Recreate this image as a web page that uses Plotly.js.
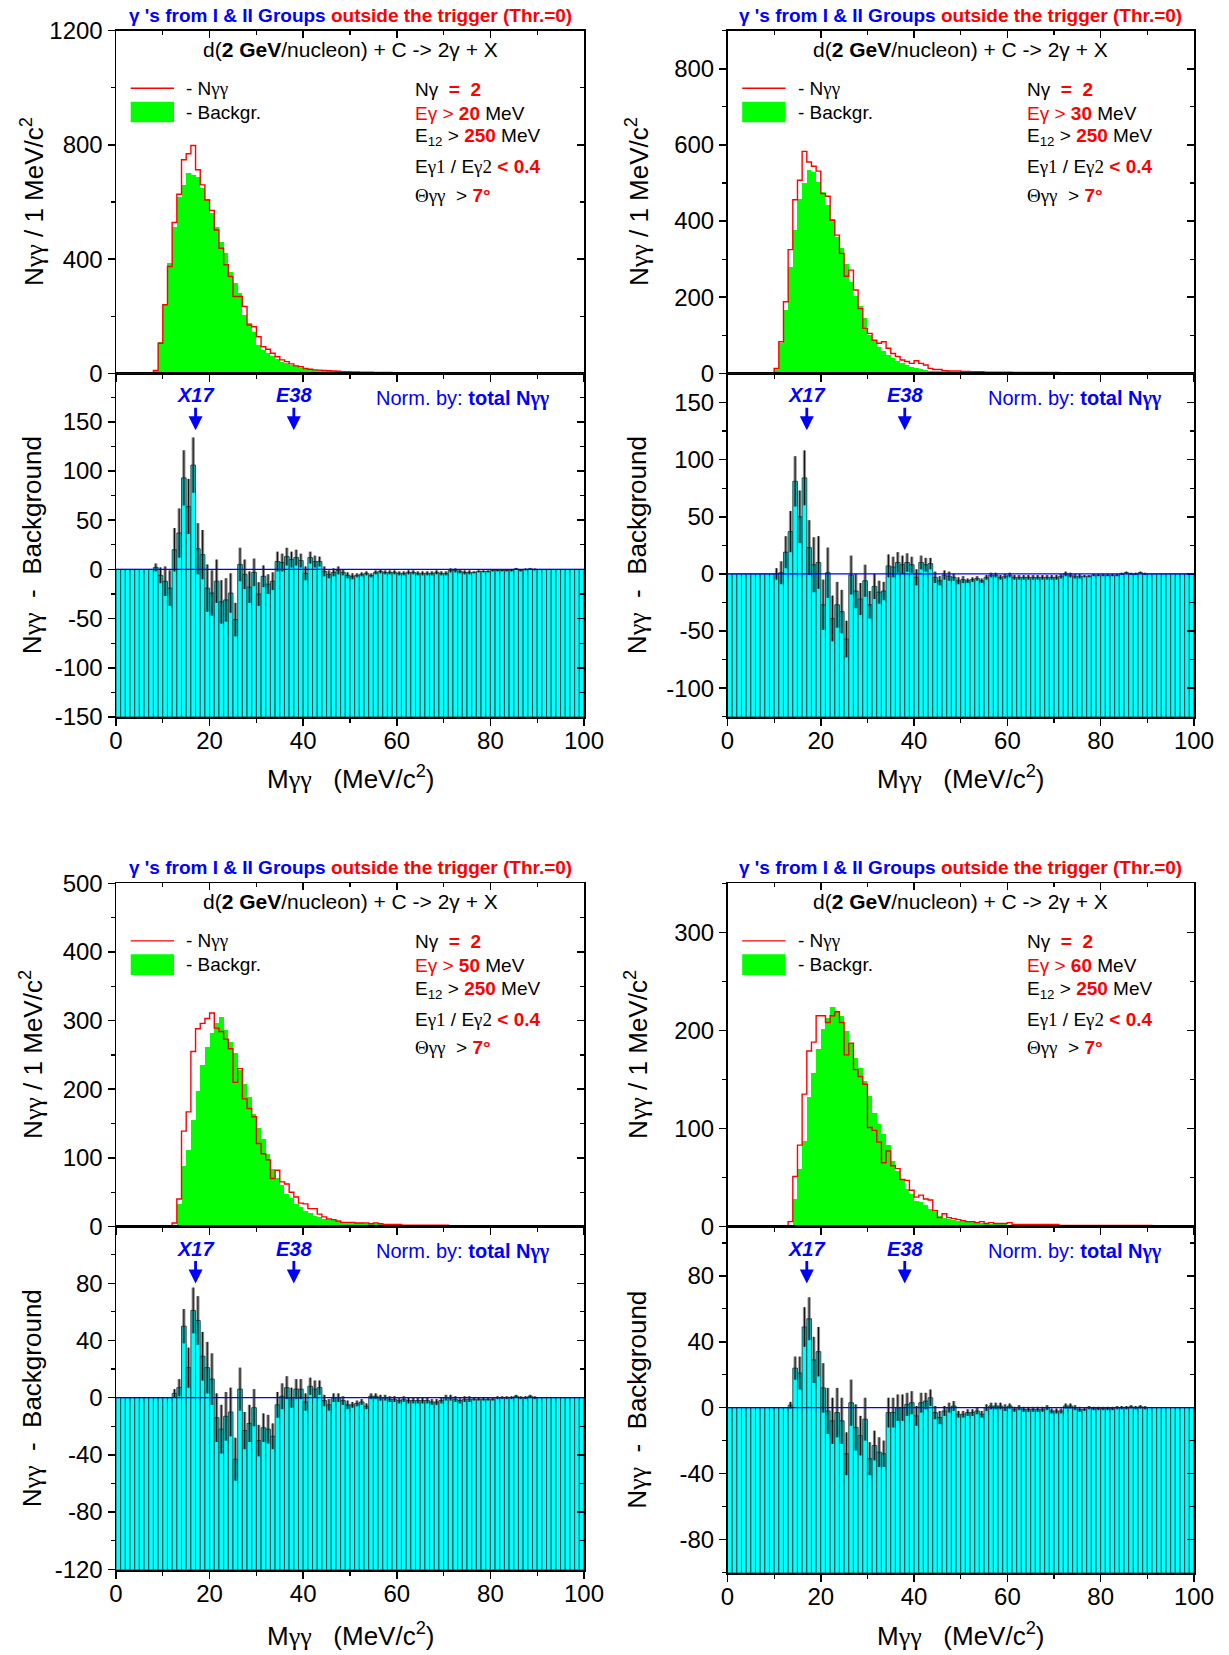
<!DOCTYPE html>
<html>
<head>
<meta charset="utf-8">
<script src="https://cdn.plot.ly/plotly-3.0.1.min.js"></script>
<style>
html,body{margin:0;padding:0;background:#fff;}
#chart{width:1229px;height:1655px;}
</style>
</head>
<body>
<div id="chart"></div>
<script>
// ---------------- DATA (1 MeV bins, 0..100 MeV) ----------------
const thresholds = [20, 30, 50, 60];

// E_gamma > 20 MeV
const red20 = [
0,0,0,0,0,0,0,0,10,105,
240,374,528,627,748,769,798,713,660,607,
570,502,438,380,339,269,269,234,169,163,
128,93,84,70,58,47,41,33,26,23,
17,14,12,11,10,9,8,7,6,6,
5,5,4,4,4,3,3,3,3,2,
2,2,2,2,2,2,2,2,2,2,
1,1,1,1,1,1,1,1,1,1,
1,1,1,1,1,1,1,1,1,1,
0,0,0,0,0,0,0,0,0,0];
const bkg20 = [
0,0,0,0,0,0,0,0,12,110,
240,385,514,619,660,703,695,689,648,610,
561,514,461,420,356,315,280,204,175,146,
99,82,70,61,50,41,35,29,24,20,
16,13,11,10,9,8,7,6,5,5,
4,4,4,3,3,3,3,2,2,2,
2,2,2,2,2,1,1,1,1,1,
1,1,1,1,1,1,1,1,1,1,
1,1,1,1,1,0,0,0,0,0,
0,0,0,0,0,0,0,0,0,0];
const diff20 = [
0,0,0,0,0,0,0,0,2,-6,
-12,-19,20,37,93,64,106,21,15,-19,
-24,-12,-33,-31,-24,-51,5,-5,-18,-3,
-25,-7,-15,-12,8,7,13,10,12,9,
-4,12,8,8,-2,-5,-3,-1,-3,-6,
-7,-6,-5,-4,-6,-3,-2,-3,-3,-3,
-4,-4,-3,-3,-4,-4,-4,-4,-3,-4,
-4,-1,-1,-2,-3,-3,-3,-2,-2,-2,
-1,-1,-1,-1,-1,0.5,-1,0,0.5,0,
0,0,0,0,0,0,0,0,0,0];
const err20 = [
0,0,0,0,0,0,0,0,4,8,
15,18,22,25,28,28,28,26,25,24,
23,22,22,22,20,17,17,15,16,14,
12,11,10,9,10,9,9,8,8,7,
7,6,6,5,5,4,4,4,3,3,
3,2,2,2,2,2,2,2,2,2,
2,2,2,2,2,2,2,2,2,2,
2,2,2,2,2,2,1,1,1,1,
1,1,1,1,1,1,1,1,1,1,
0,0,0,0,0,0,0,0,0,0];

// E_gamma > 30 MeV
const red30 = [
0,0,0,0,0,0,0,0,0,0,
13,83,188,325,456,507,583,555,544,531,
472,465,402,363,315,255,271,219,170,118,
105,87,79,83,66,52,44,35,31,26,
33,26,22,13,10,10,7,6,6,6,
5,5,4,4,4,3,3,3,3,3,
3,2,2,2,2,2,2,2,2,2,
2,1,1,1,1,1,1,1,1,1,
1,1,1,1,1,1,1,1,1,1,
1,0,0,0,0,0,0,0,0,0];
const bkg30 = [
0,0,0,0,0,0,0,0,0,0,
13,80,166,280,376,459,500,533,529,502,
476,441,406,358,328,287,240,203,177,144,
100,86,70,59,48,39,33,26,22,17,
14,10,9,7,6,6,5,5,4,4,
4,3,3,3,3,3,2,2,2,2,
2,2,2,2,2,2,1,1,1,1,
1,1,1,1,1,1,1,1,1,1,
1,1,1,1,1,1,0,0,0,0,
0,0,0,0,0,0,0,0,0,0];
const diff30 = [
0,0,0,0,0,0,0,0,0,0,
0,1,19,37,81,50,84,23,8,10,
-27,1,-39,-27,-33,-57,-1,-15,-22,-6,
-27,-11,-16,-15,7,6,10,8,10,8,
-3,10,8,9,-3,-6,-1,-2,-3,-6,
-5,-6,-5,-4,-6,-3,-1,-1,-3,-2,
-1,-3,-3,-3,-3,-3,-3,-3,-3,-3,
-3,-2,0,-1,-2,-2,-2,-2,-1,-1,
-1,-1,-1,-1,0,1,0,0,1,0,
0,0,0,0,0,0,0,0,0,0];
const err30 = [
0,0,0,0,0,0,0,0,0,0,
5,10,14,18,22,23,24,24,24,23,
22,22,20,20,19,16,17,15,14,14,
12,11,10,8,10,9,9,8,8,7,
7,6,6,5,5,4,4,4,3,3,
3,2,2,2,2,2,2,2,2,2,
2,2,2,2,2,2,2,2,2,2,
2,2,2,2,2,2,1,1,1,1,
1,1,1,1,1,1,1,1,1,1,
0,0,0,0,0,0,0,0,0,0];

// E_gamma > 50 MeV
const red50 = [
0,0,0,0,0,0,0,0,0,0,
0,0,5,40,139,167,255,288,296,303,
311,289,284,273,259,210,230,186,172,160,
121,106,97,70,82,65,62,50,43,34,
33,26,26,18,14,11,10,8,6,6,
6,5,5,5,4,5,4,3,3,3,
3,2,2,2,2,2,2,2,2,2,
2,1,1,1,1,1,1,1,1,1,
1,1,1,1,1,1,1,1,1,1,
1,0,0,0,0,0,0,0,0,0];
const bkg50 = [
0,0,0,0,0,0,0,0,0,0,
0,0,0,33,88,112,155,197,235,262,
282,297,305,286,269,253,228,208,188,164,
143,128,105,84,70,60,48,41,33,28,
23,19,16,14,11,10,9,8,7,6,
6,5,5,4,4,4,3,3,3,3,
2,2,2,2,2,2,1,1,1,1,
1,1,1,1,1,1,1,1,1,1,
1,1,1,1,1,1,0,0,0,0,
0,0,0,0,0,0,0,0,0,0];
const diff50 = [
0,0,0,0,0,0,0,0,0,0,
0,0,3,7,50,21,61,54,29,21,
13,-14,-22,-13,-10,-43,6,-23,-18,-7,
-30,-21,-22,-27,-5,1,7,0,6,6,
-3,8,6,7,-2,-5,0,0,-2,-5,
-5,-4,-3,-6,1,1,0,0,-1,-1,
-2,-1,-2,-2,-2,-2,-2,-3,-3,-2,
0,0,-1,-2,-1,-1,-1,-1,-1,-1,
-1,0,0,0,0,1,0,0,1,0,
0,0,0,0,0,0,0,0,0,0];
const err50 = [
0,0,0,0,0,0,0,0,0,0,
0,0,3,6,12,14,16,17,17,18,
18,17,17,17,17,15,15,13,13,13,
11,10,10,9,9,9,8,7,7,7,
6,6,6,5,4,4,3,3,3,3,
2,2,2,2,2,2,2,2,2,2,
2,2,2,2,2,2,2,2,2,2,
2,2,2,2,2,2,1,1,1,1,
1,1,1,1,1,1,1,1,1,1,
0,0,0,0,0,0,0,0,0,0];

// E_gamma > 60 MeV
const red60 = [
0,0,0,0,0,0,0,0,0,0,
0,0,0,5,51,83,135,179,188,215,
215,208,215,219,208,175,187,160,153,145,
101,98,86,65,77,62,59,48,47,37,
30,32,28,27,16,9,13,9,8,7,
6,5,5,4,5,3,4,3,3,3,
4,2,2,2,2,2,2,2,2,2,
2,1,1,1,1,1,1,1,1,1,
1,1,1,1,1,1,1,1,1,1,
1,0,0,0,0,0,0,0,0,0];
const bkg60 = [
0,0,0,0,0,0,0,0,0,0,
0,0,0,0,28,59,87,132,157,181,
201,213,224,220,215,199,187,172,162,148,
133,116,105,94,83,67,57,47,38,33,
26,25,22,18,15,11,9,8,7,6,
6,5,5,4,4,4,3,3,3,3,
2,2,2,2,2,2,1,1,1,1,
1,1,1,1,1,1,1,1,1,1,
1,1,1,1,1,1,0,0,0,0,
0,0,0,0,0,0,0,0,0,0];
const diff60 = [
0,0,0,0,0,0,0,0,0,0,
0,0,0,1.5,24,21,49,54,29,34,
12,-2,-8,-3,-8,-28,3,-12,-17,-7,
-31,-23,-27,-28,-3,-3,0,0,2,3,
-5,3,4,6,-3,-6,-2,0,1,-4,
-4,-3,-3,-2,-4,0,1,1,1,0,
1,-1,0,-1,-1,-1,-1,-1,0,-2,
-2,-2,1,1,0,-1,-1,0,-0.5,-0.5,
-0.5,-0.5,-0.5,0,0,0,0.5,0,0.5,0,
0,0,0,0,0,0,0,0,0,0];
const err60 = [
0,0,0,0,0,0,0,0,0,0,
0,0,0,2,7,10,12,13,14,15,
15,14,14,15,14,13,14,14,12,13,
10,9,9,8,9,9,8,8,7,7,
6,6,5,5,4,4,3,3,3,2,
2,2,2,2,2,2,2,2,2,2,
1.5,1.5,1.5,1.5,1.5,1.5,1.5,1.5,1.5,1.5,
1.5,1.5,1.5,1.5,1.5,1.5,1,1,1,1,
1,1,1,1,1,1,1,1,1,1,
0,0,0,0,0,0,0,0,0,0];

// tick labels of the difference panels
const bot1Ticks = [-150,-100,-50,0,50,100,150];
const bot2Ticks = [-100,-50,0,50,100,150];
const bot3Ticks = [-120,-80,-40,0,40,80];
const bot4Ticks = [-80,-40,0,40,80];
const xTicks = [0,20,40,60,80,100];

// ---------------- BUILD ----------------
const W = 1229, H = 1655;
const nBins = red20.length;
const binLow = [], binCenter = [];
for (let i = 0; i < nBins; i++) { binLow.push(i); binCenter.push(i + 0.5); }
const edges = binLow.concat([nBins]);

const series = [
  {red: red20, bkg: bkg20, diff: diff20, err: err20, ticks: bot1Ticks},
  {red: red30, bkg: bkg30, diff: diff30, err: err30, ticks: bot2Ticks},
  {red: red50, bkg: bkg50, diff: diff50, err: err50, ticks: bot3Ticks},
  {red: red60, bkg: bkg60, diff: diff60, err: err60, ticks: bot4Ticks}
];
// geometry (pixels) and axis settings
const geo = [
  {L:116,   R:584,  T:30.7,  M:373.3,  B:717,  yt:[0,1200], dt:400, mt:200, yb:[-150,199.3],  mb:25, titleY:32,  xTitleY:777},
  {L:727.5, R:1194, T:30.7,  M:373.3,  B:717,  yt:[0,900],  dt:200, mt:100, yb:[-125.2,175.5], mb:25, titleY:637, xTitleY:777},
  {L:116,   R:584,  T:883.3, M:1226.5, B:1570, yt:[0,500],  dt:100, mt:50,  yb:[-120.5,119.7], mb:20, titleY:32,  xTitleY:1634},
  {L:727.5, R:1194, T:883.3, M:1226.5, B:1573, yt:[0,350],  dt:100, mt:50,  yb:[-100.4,110],  mb:20, titleY:637, xTitleY:1634}
];

const FONT = 'Liberation Sans, Arial, sans-serif';
const SERIF = 'Liberation Serif, Times New Roman, serif';
const BLUE = '#0000FF', RED = '#FF0000';
const g = s => '<span style="font-family:' + SERIF + '">' + s + '</span>';
const red = s => '<span style="color:' + RED + '">' + s + '</span>';
const px = x => x / W;
const py = y => 1 - y / H;

const traces = [];
const layout = {
  width: W, height: H,
  margin: {l:0, r:0, t:0, b:0},
  paper_bgcolor: '#fff', plot_bgcolor: '#fff',
  showlegend: false,
  barmode: 'overlay', bargap: 0,
  font: {family: FONT, color: '#000', size: 24},
  annotations: [], shapes: []
};

function axisBase() {
  return {
    showgrid: false, zeroline: false,
    showline: true, linecolor: '#000', linewidth: 1.5,
    mirror: true, ticks: 'outside', ticklen: 7, tickwidth: 1.5, tickcolor: '#000',
    tickfont: {family: FONT, size: 24, color: '#000'},
    minor: {ticks: 'outside', ticklen: 4, tickwidth: 1.2, tickcolor: '#000', tickmode: 'linear', tick0: 0}
  };
}
// inside ticks on the opposite (top / right) sides
function mirrorAxis(main, side, over, anchor) {
  return {
    overlaying: over, side: side, anchor: anchor,
    range: main.range, tickmode: main.tickmode, tickvals: main.tickvals, dtick: main.dtick, tick0: main.tick0,
    showgrid: false, zeroline: false, showline: false, showticklabels: false,
    ticks: 'inside', ticklen: 7, tickwidth: 1.5, tickcolor: '#000',
    minor: {ticks: 'inside', ticklen: 4, tickwidth: 1.2, tickcolor: '#000', tickmode: 'linear', tick0: 0, dtick: main.minor.dtick}
  };
}

geo.forEach((p, k) => {
  const s = series[k];
  const it = 2 * k + 1, ib = 2 * k + 2;
  const xt = 'x' + it, ytn = 'y' + it, xb = 'x' + ib, ybn = 'y' + ib;
  const xdom = [px(p.L), px(p.R)];

  // ---- axes ----
  const axT = Object.assign(axisBase(), {
    domain: xdom, anchor: ytn, range: [0, 100], tickmode: 'array', tickvals: xTicks,
    showticklabels: false, layer: 'below traces'
  });
  axT.minor.dtick = 10;
  const ayT = Object.assign(axisBase(), {
    domain: [py(p.M), py(p.T)], anchor: xt, range: p.yt, dtick: p.dt, tick0: 0, tickmode: 'linear'
  });
  ayT.minor.dtick = p.mt;
  const axB = Object.assign(axisBase(), {
    domain: xdom, anchor: ybn, range: [0, 100], tickmode: 'array', tickvals: xTicks,
    ticktext: xTicks.map(String), ticklabelstandoff: -5
  });
  axB.minor.dtick = 10;
  const ayB = Object.assign(axisBase(), {
    domain: [py(p.B), py(p.M)], anchor: xb, range: p.yb, tickmode: 'array',
    tickvals: s.ticks, ticktext: s.ticks.map(String)
  });
  ayB.minor.dtick = p.mb;
  layout['xaxis' + it] = axT; layout['yaxis' + it] = ayT;
  layout['xaxis' + ib] = axB; layout['yaxis' + ib] = ayB;
  // mirrored inside ticks (axes 9..16), each registered through an empty trace
  [[it, axT, ayT, xt, ytn], [ib, axB, ayB, xb, ybn]].forEach(([n, ax, ay, xn, yn]) => {
    const mx = 'x' + (8 + n), my = 'y' + (8 + n);
    layout['xaxis' + (8 + n)] = mirrorAxis(ax, 'top', xn, yn);
    layout['yaxis' + (8 + n)] = mirrorAxis(ay, 'right', yn, xn);
    traces.push({type: 'scatter', mode: 'markers', x: [], y: [], xaxis: mx, yaxis: yn, hoverinfo: 'skip'});
    traces.push({type: 'scatter', mode: 'markers', x: [], y: [], xaxis: xn, yaxis: my, hoverinfo: 'skip'});
  });

  // ---- top: background (green) + N_gg (red step) ----
  traces.push({
    type: 'bar', x: binCenter, y: s.bkg, width: 1, xaxis: xt, yaxis: ytn,
    marker: {color: '#00FF00', line: {width: 0}}, hoverinfo: 'skip'
  });
  traces.push({
    type: 'scatter', mode: 'lines', x: edges, y: s.red.concat([s.red[nBins - 1]]),
    xaxis: xt, yaxis: ytn, line: {color: RED, width: 1.4, shape: 'hv'}, hoverinfo: 'skip'
  });

  // ---- bottom: difference bars from axis bottom ----
  const base = p.yb[0];
  traces.push({
    type: 'bar', x: binCenter, y: s.diff.map(v => v - base), base: base, width: 1,
    xaxis: xb, yaxis: ybn,
    marker: {color: '#00FFFF', line: {color: '#1f4040', width: 0.9}}, hoverinfo: 'skip'
  });
  traces.push({
    type: 'scatter', mode: 'markers', x: binCenter, y: s.diff, xaxis: xb, yaxis: ybn,
    marker: {size: 1, color: 'rgba(0,0,0,0)'},
    error_y: {type: 'data', array: s.err, visible: true, color: 'rgba(50,50,50,0.55)', thickness: 3.2, width: 0},
    hoverinfo: 'skip'
  });
  traces.push({
    type: 'scatter', mode: 'markers', x: binCenter, y: s.diff, xaxis: xb, yaxis: ybn,
    marker: {size: 1, color: 'rgba(0,0,0,0)'},
    error_y: {type: 'data', array: s.err, visible: true, color: '#111', thickness: 1, width: 0},
    hoverinfo: 'skip'
  });
  layout.shapes.push({type: 'line', xref: xb + ' domain', yref: ybn, x0: 0, x1: 1, y0: 0, y1: 0,
    line: {color: BLUE, width: 1.3}});

  // ---- legend decorations ----
  layout.shapes.push({type: 'line', xref: 'paper', yref: 'paper',
    x0: px(p.L + 14.7), x1: px(p.L + 58), y0: py(p.T + 57.6), y1: py(p.T + 57.6),
    line: {color: RED, width: 1.4}});
  layout.shapes.push({type: 'rect', xref: 'paper', yref: 'paper',
    x0: px(p.L + 14.7), x1: px(p.L + 58), y0: py(p.T + 91.6), y1: py(p.T + 71),
    fillcolor: '#00FF00', line: {width: 0}});

  const A = layout.annotations;
  const cx = (p.L + p.R) / 2;
  const ann = (x, y, text, size, extra) => A.push(Object.assign({
    xref: 'paper', yref: 'paper', x: px(x), y: py(y), text: text, showarrow: false,
    xanchor: 'left', yanchor: 'middle', font: {family: FONT, size: size, color: '#000'}
  }, extra || {}));

  // header
  ann(cx, p.T - 15.7, '<b><span style="color:' + BLUE + '">γ \'s from I &amp; II Groups</span> ' +
      '<span style="color:' + RED + '">outside the trigger (Thr.=0)</span></b>', 19, {xanchor: 'center'});
  ann(cx, p.T + 18.6, 'd(<b>2 GeV</b>/nucleon) + C -&gt; 2γ + X', 21, {xanchor: 'center'});
  // legend texts
  ann(p.L + 68, p.T + 57.6, '- N' + g('γγ'), 19);
  ann(p.L + 68, p.T + 81.5, '- Backgr.', 19);
  // cuts
  const rx = p.L + 297;
  ann(rx, p.T + 58.6, 'Nγ&nbsp;&nbsp;' + red('<b>=&nbsp;&nbsp;2</b>'), 19);
  ann(rx, p.T + 82.6, red('Eγ &gt; <b>' + thresholds[k] + '</b>') + ' MeV', 19);
  ann(rx, p.T + 106.5, 'E<sub>12</sub> &gt; ' + red('<b>250</b>') + ' MeV', 19);
  ann(rx, p.T + 136.3, 'E' + g('γ1') + ' / E' + g('γ2') + ' ' + red('<b>&lt; 0.4</b>'), 19);
  ann(rx, p.T + 164.5, g('Θγγ') + '&nbsp;&nbsp;&gt; ' + red('<b>7°</b>'), 19);
  // bottom panel labels
  ann(p.L + 258, p.M + 25, 'Norm. by: <b>total N' + g('γγ') + '</b>', 20, {font: {family: FONT, size: 20, color: BLUE}});
  [[17, 'X17'], [38, 'E38']].forEach(([xv, lab]) => {
    A.push({xref: xb, yref: ybn + ' domain', x: xv, y: 1 - 57 / (p.B - p.M),
      text: '<b><i>' + lab + '</i></b>', showarrow: true, ax: 0, ay: -35,
      arrowcolor: BLUE, arrowhead: 2, arrowsize: 1, arrowwidth: 2.8, standoff: 0,
      font: {family: FONT, size: 20, color: BLUE}});
  });
  // axis titles
  ann(p.titleY, (p.T + p.M) / 2, 'N' + g('γγ') + ' / 1 MeV/c<sup>2</sup>', 26, {xanchor: 'center', textangle: -90});
  ann(p.titleY, (p.M + p.B) / 2, 'N' + g('γγ') + '&nbsp;&nbsp;-&nbsp;&nbsp;Background', 26, {xanchor: 'center', textangle: -90});
  ann(cx, p.xTitleY, 'M' + g('γγ') + '&nbsp;&nbsp;&nbsp;(MeV/c<sup>2</sup>)', 26, {xanchor: 'center'});
});

Plotly.newPlot('chart', traces, layout, {staticPlot: true, displayModeBar: false});
</script>
</body>
</html>
